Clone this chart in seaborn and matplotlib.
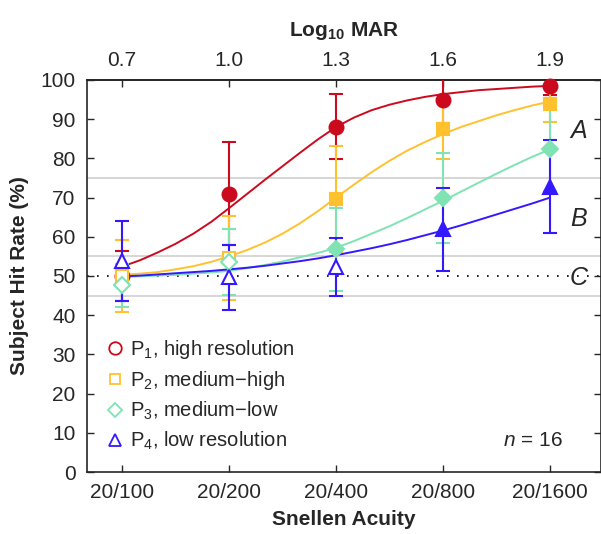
import numpy as np
import pandas as pd
import seaborn as sns
import matplotlib.pyplot as plt
from matplotlib.lines import Line2D

# log10 MAR positions and the matching Snellen labels
log_mar = [0.7, 1.0, 1.3, 1.6, 1.9]
snellen = ['20/100', '20/200', '20/400', '20/800', '20/1600']

# mean hit rate (%) and error bar half-widths per condition
p1_mean = [50.0, 71.0, 88.1, 95.0, 98.5]
p1_err = [6.5, 13.1, 8.2, 6.0, 2.4]
p2_mean = [50.0, 54.6, 69.7, 87.4, 94.0]
p2_err = [9.3, 10.8, 13.5, 7.5, 4.6]
p3_mean = [47.6, 53.6, 56.8, 70.0, 82.3]
p3_err = [5.5, 8.5, 10.6, 11.5, 10.5]
p4_mean = [53.8, 49.7, 52.3, 61.9, 72.8]
p4_err = [10.2, 8.3, 7.4, 10.6, 11.8]

# filled marker = above chance
p1_filled = [False, True, True, True, True]
p2_filled = [False, False, True, True, True]
p3_filled = [False, False, True, True, True]
p4_filled = [False, False, False, True, True]

# fitted psychometric curves, every 0.05 log units
fit_x = [0.7, 0.75, 0.8, 0.85, 0.9, 0.95, 1.0, 1.05, 1.1, 1.15, 1.2, 1.25, 1.3,
         1.35, 1.4, 1.45, 1.5, 1.55, 1.6, 1.65, 1.7, 1.75, 1.8, 1.85, 1.9]
p1_fit = [52.4, 54.0, 56.0, 58.2, 60.8, 63.8, 67.3, 70.9, 74.5, 78.0, 81.5, 84.9, 88.0,
          90.4, 92.3, 93.7, 94.8, 95.7, 96.4, 96.9, 97.4, 97.7, 98.0, 98.3, 98.5]
p2_fit = [50.3, 50.6, 51.0, 51.7, 52.5, 53.6, 55.0, 56.6, 58.5, 60.8, 63.5, 66.6, 70.0,
          73.3, 76.5, 79.4, 82.0, 84.2, 86.2, 88.0, 89.5, 91.0, 92.3, 93.5, 94.5]
p3_fit = [49.7, 49.9, 50.1, 50.3, 50.6, 50.9, 51.3, 52.0, 52.8, 53.7, 54.8, 55.9, 57.2,
          58.9, 60.8, 62.7, 64.8, 67.0, 69.2, 71.5, 73.8, 76.1, 78.3, 80.4, 82.3]
p4_fit = [49.9, 50.1, 50.4, 50.7, 51.0, 51.3, 51.7, 52.1, 52.6, 53.2, 53.8, 54.5, 55.3,
          56.2, 57.1, 58.1, 59.2, 60.4, 61.6, 62.9, 64.3, 65.7, 67.1, 68.5, 70.0]

names = ['P1', 'P2', 'P3', 'P4']
labels = ['P$_1$, high resolution', 'P$_2$, medium\u2212high',
          'P$_3$, medium\u2212low', 'P$_4$, low resolution']
colors = ['#cc0a1e', '#ffc12e', '#7fe3b3', '#3418ff']
markers = ['o', 's', 'D', '^']
msizes = [10, 8.5, 8.5, 10]

sns.set_theme(style='ticks')
plt.rcParams['font.family'] = ['Liberation Sans', 'DejaVu Sans']
plt.rcParams['mathtext.fontset'] = 'custom'
plt.rcParams['mathtext.rm'] = 'Liberation Sans'
plt.rcParams['mathtext.it'] = 'Liberation Sans:italic'
plt.rcParams['mathtext.bf'] = 'Liberation Sans:bold'

fig = plt.figure(figsize=(6.01, 5.34), dpi=100)
ax = fig.add_axes([0.1443, 0.1161, 0.8557, 0.7341])

# reference lines
for y in [45, 55, 75]:
    ax.axhline(y, color='#cfcfcf', lw=1.2, zorder=0)
ax.axhline(50, color='black', lw=1.2, ls=(0, (1, 5)), zorder=0)

fits = pd.DataFrame({
    'x': fit_x * 4,
    'rate': p1_fit + p2_fit + p3_fit + p4_fit,
    'cond': sum([[n] * len(fit_x) for n in names], []),
})
sns.lineplot(data=fits, x='x', y='rate', hue='cond', palette=colors,
             lw=1.4, legend=False, ax=ax, zorder=2)

means = [p1_mean, p2_mean, p3_mean, p4_mean]
errs = [p1_err, p2_err, p3_err, p4_err]
fills = [p1_filled, p2_filled, p3_filled, p4_filled]
for i in range(4):
    c = colors[i]
    ax.errorbar(log_mar, means[i], yerr=errs[i], fmt='none', ecolor=c,
                elinewidth=1.5, capsize=5, capthick=1.5, zorder=3)
    for x, y, f in zip(log_mar, means[i], fills[i]):
        ax.plot(x, y, marker=markers[i], ms=msizes[i], mec=c,
                mfc=c if f else 'white', mew=1.5, zorder=4, clip_on=False)

ax.set_xlim(0.601, 2.043)
ax.set_ylim(0, 100)
ax.set_yticks(range(0, 101, 10))
ax.set_xticks(log_mar)
ax.set_xticklabels(snellen)
ax.tick_params(axis='both', direction='in', length=5, width=1, labelsize=15,
               top=False, right=True, pad=8)
ax.set_xlabel('Snellen Acuity', fontsize=15, fontweight='bold', labelpad=6)
ax.set_ylabel('Subject Hit Rate (%)', fontsize=15, fontweight='bold', labelpad=8)

top = ax.secondary_xaxis('top')
top.set_xticks(log_mar)
top.set_xticklabels(['0.7', '1.0', '1.3', '1.6', '1.9'])
top.tick_params(direction='in', length=5, width=1, labelsize=15, pad=7)
top.set_xlabel('Log$_{\\mathbf{10}}$ MAR', fontsize=15, fontweight='bold', labelpad=11)

for s in ax.spines.values():
    s.set_linewidth(1.2)

# region letters and sample size
ax.text(1.98, 87, 'A', fontsize=18, style='italic', ha='center', va='center')
ax.text(1.98, 64.5, 'B', fontsize=18, style='italic', ha='center', va='center')
ax.text(1.98, 49.5, 'C', fontsize=18, style='italic', ha='center', va='center')
ax.text(1.936, 8, '$\\it{n}$ = 16', fontsize=15, ha='right', va='center')

handles = [Line2D([], [], ls='none', marker=markers[i], ms=msizes[i] - 1,
                  mec=colors[i], mfc='white', mew=1.3) for i in range(4)]
ax.legend(handles, labels, loc='lower left', bbox_to_anchor=(0.0, 0.015),
          frameon=False, fontsize=14.5, handletextpad=0.05, handlelength=1.4,
          labelspacing=0.38, borderaxespad=0.3)

fig.savefig('out.png', dpi=100)
